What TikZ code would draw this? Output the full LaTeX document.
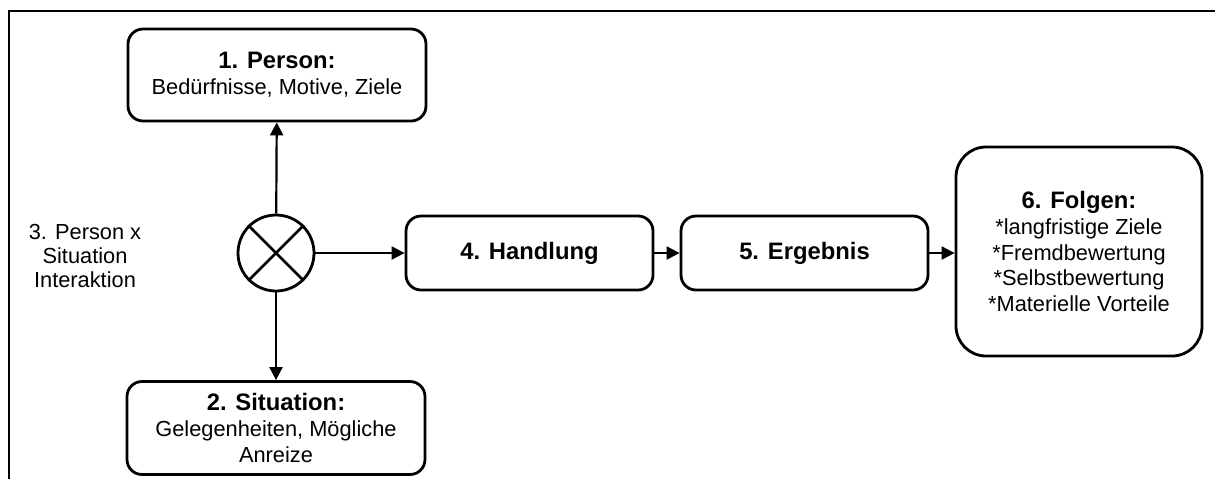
\documentclass[tikz,border=0pt]{standalone}
\usepackage{fontspec}
\setmainfont{Liberation Sans}
\usetikzlibrary{arrows.meta}
\newcommand{\ttl}[1]{{\fontsize{11.9}{12.9}\selectfont\textbf{#1}}}
\begin{document}
\begin{tikzpicture}[x=0.5pt,y=-0.5pt,
  box/.style={draw,line width=1.4pt,rounded corners=7.5pt,align=center,inner sep=0pt,font=\fontsize{10.9}{12.9}\selectfont},
  conn/.style={line width=1.1pt,-{Triangle[length=6.5pt,width=6.5pt]}},
  frame/.style={line width=1pt}]
\useasboundingbox (0,0) rectangle (1215,479);
\coordinate (fbl) at (9,479);
\coordinate (ftl) at (9,11);
\coordinate (ftr) at (1215,11);
\draw[frame] (fbl) -- (ftl) -- (ftr);
\node[box,minimum width=149pt,minimum height=46pt] (p) at (277,75)
  {\ttl{1. Person:}\\Bedürfnisse, Motive, Ziele};
\node[box,minimum width=149pt,minimum height=46.5pt] (s) at (276,428)
  {\ttl{2. Situation:}\\Gelegenheiten, Mögliche\\Anreize};
\node[draw,circle,line width=1.4pt,minimum size=38pt,inner sep=0pt] (x) at (276,253) {};
\draw[line width=1.4pt] (x.north west) -- (x.south east) (x.north east) -- (x.south west);
\node[align=center,font=\fontsize{10.9}{12.2}\selectfont] (lab) at (85,256)
  {3. Person x\\Situation\\Interaktion};
\node[box,minimum width=123.5pt,minimum height=37pt] (h) at (529.5,253) {\ttl{4. Handlung}};
\node[box,minimum width=123.5pt,minimum height=37pt] (e) at (804.5,253) {\ttl{5. Ergebnis}};
\node[box,rounded corners=15pt,minimum width=123pt,minimum height=104.5pt] (f) at (1079,251.5)
  {\ttl{6. Folgen:}\\*langfristige Ziele\\*Fremdbewertung\\*Selbstbewertung\\*Materielle Vorteile};
\draw[conn] (x) -- (p);
\draw[conn] (x) -- (s);
\draw[conn] (x) -- (h);
\draw[conn] (h) -- (e);
\draw[conn] (e.east) -- (f.west |- e.east);
\end{tikzpicture}
\end{document}
